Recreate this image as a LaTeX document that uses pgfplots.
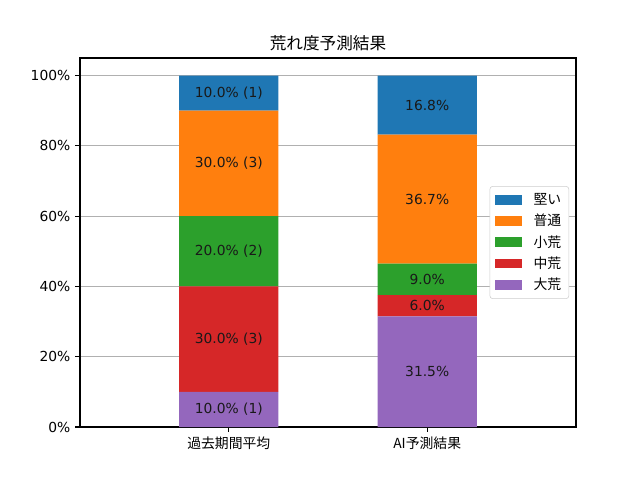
\documentclass[border=0pt]{standalone}
\usepackage{fontspec}
\setmainfont{DejaVu Sans}
\newfontfamily\cjk{Noto Sans CJK JP}
\usepackage{pgfplots}
\pgfplotsset{compat=1.18}
\definecolor{cA}{HTML}{1F77B4}
\definecolor{cB}{HTML}{FF7F0E}
\definecolor{cC}{HTML}{2CA02C}
\definecolor{cD}{HTML}{D62728}
\definecolor{cE}{HTML}{9467BD}
\definecolor{gridc}{HTML}{B0B0B0}
\definecolor{legc}{HTML}{CCCCCC}
\pgfplotsset{base/.style={
  at={(0,0)}, anchor=south west,
  scale only axis, width=4.96in, height=3.69in,
  xmin=-0.75, xmax=1.75, ymin=0, ymax=105,
}}
\begin{document}
\begin{tikzpicture}
\path[use as bounding box] (-0.8in,-0.53in) rectangle (5.6in,4.27in);
\begin{axis}[base,
  ybar stacked, bar width=0.5,
  xtick={0,1},
  xticklabels={{\cjk 過去期間平均},{\cjk AI予測結果}},
  ytick={0,20,40,60,80,100},
  yticklabels={0\%,20\%,40\%,60\%,80\%,100\%},
  xtick pos=bottom, ytick pos=left,
  tick align=outside, major tick length=3.5pt,
  tick style={black, line width=0.8pt},
  axis line style={line width=0.8pt},
  ymajorgrids, grid style={gridc, line width=0.8pt},
  ticklabel style={font=\fontsize{10}{12}\selectfont},
  title={\cjk 荒れ度予測結果},
  title style={at={(0.5,1)}, anchor=base, yshift=0pt, inner sep=0pt, font=\fontsize{12}{14}\selectfont},
  reverse legend,
  legend style={at={(1,0.5)}, anchor=east, xshift=-5pt,
    draw=legc, rounded corners=2pt, fill=white,
    font=\fontsize{10}{12}\selectfont, row sep=1.5pt, inner xsep=3.5pt, inner ysep=3pt,
    /tikz/every odd column/.append style={column sep=6pt}},
  legend cell align=left,
  legend image code/.code={\fill[#1, sharp corners] (0pt,-3.5pt) rectangle (20pt,3.5pt);},
]
\addplot[fill=cE, draw=none] coordinates {(0,10) (1,31.5)};
\addlegendentry{\cjk 大荒}
\addplot[fill=cD, draw=none] coordinates {(0,30) (1,6.0)};
\addlegendentry{\cjk 中荒}
\addplot[fill=cC, draw=none] coordinates {(0,20) (1,9.0)};
\addlegendentry{\cjk 小荒}
\addplot[fill=cB, draw=none] coordinates {(0,30) (1,36.7)};
\addlegendentry{\cjk 普通}
\addplot[fill=cA, draw=none] coordinates {(0,10) (1,16.8)};
\addlegendentry{\cjk 堅い}
\end{axis}
\begin{axis}[base, hide axis]
\addplot[draw=none, nodes near coords, point meta=explicit symbolic,
  every node near coord/.append style={anchor=center, font=\fontsize{10}{12}\selectfont, text=black!90}]
  coordinates {
  (0,5) [10.0\% (1)]
  (0,25) [30.0\% (3)]
  (0,50) [20.0\% (2)]
  (0,75) [30.0\% (3)]
  (0,95) [10.0\% (1)]
  (1,15.75) [31.5\%]
  (1,34.5) [6.0\%]
  (1,42.0) [9.0\%]
  (1,64.85) [36.7\%]
  (1,91.6) [16.8\%]
  };
\end{axis}
\end{tikzpicture}
\end{document}
